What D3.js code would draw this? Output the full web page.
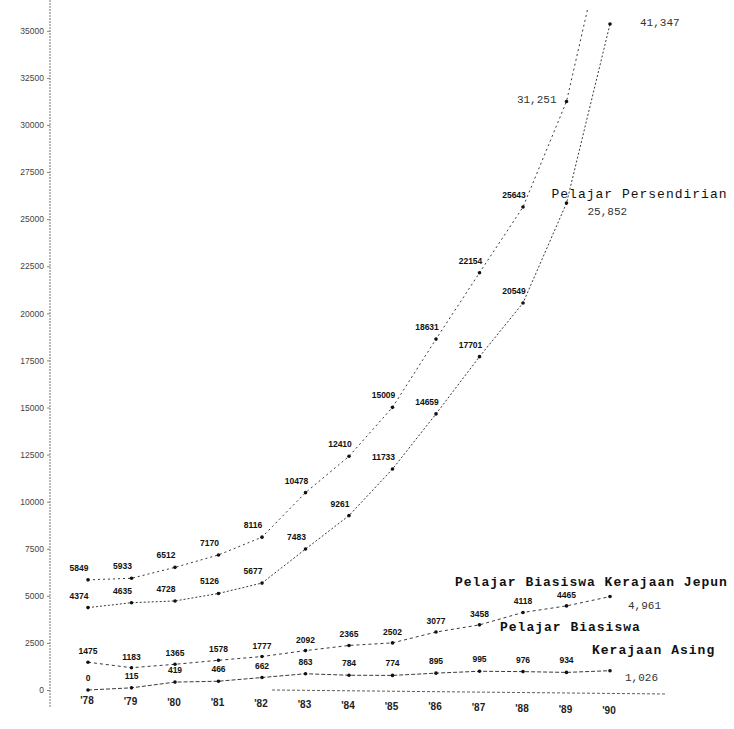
<!DOCTYPE html>
<html>
<head>
<meta charset="utf-8">
<script src="https://cdn.jsdelivr.net/npm/d3@7"></script>
<style>
  body { margin: 0; background: #fff; }
  svg { display: block; }
  .val { font-family: "Liberation Sans", Arial, sans-serif; font-size: 8.5px; font-weight: bold; fill: #111; }
  .endval { font-family: "Liberation Mono", monospace; font-size: 11px; fill: #333; }
  .series-name { font-family: "Liberation Mono", monospace; font-size: 13px; font-weight: bold; letter-spacing: 1px; fill: #111; }
  .y-axis text { font-family: "Liberation Sans", Arial, sans-serif; font-size: 8.5px; fill: #444; }
  .x-label { font-family: "Liberation Sans", Arial, sans-serif; font-size: 10px; font-weight: bold; fill: #222; }
</style>
</head>
<body>
<svg id="chart"></svg>
<script>
// Chart data
const years = ["'78", "'79", "'80", "'81", "'82", "'83", "'84", "'85", "'86", "'87", "'88", "'89", "'90"];
const totalValues = [5849, 5933, 6512, 7170, 8116, 10478, 12410, 15009, 18631, 22154, 25643, 31251, 41347];
const privateValues = [4374, 4635, 4728, 5126, 5677, 7483, 9261, 11733, 14659, 17701, 20549, 25852, 35360];
const japanValues = [1475, 1183, 1365, 1578, 1777, 2092, 2365, 2502, 3077, 3458, 4118, 4465, 4961];
const foreignValues = [0, 115, 419, 466, 662, 863, 784, 774, 895, 995, 976, 934, 1026];
const yTickValues = [0, 2500, 5000, 7500, 10000, 12500, 15000, 17500, 20000, 22500, 25000, 27500, 30000, 32500, 35000];

const width = 734, height = 729;

const svg = d3.select('#chart')
    .attr('width', width)
    .attr('height', height);

// Scales
const x = d3.scalePoint().domain(years).range([88, 610]);
const y = d3.scaleLinear().domain([0, 36000]).range([690, 12]);

const plain = d3.format('d');
const comma = d3.format(',');

// Clip so the top of the curves runs off the page like the scan
svg.append('clipPath').attr('id', 'plot-clip')
    .append('rect')
    .attr('x', 0).attr('y', 8)
    .attr('width', width).attr('height', height);

// Y axis
const yAxis = d3.axisLeft(y)
    .tickValues(yTickValues)
    .tickSize(3)
    .tickPadding(3)
    .tickFormat(plain);

const yG = svg.append('g')
    .attr('class', 'y-axis')
    .attr('transform', 'translate(50,0)')
    .call(yAxis);
yG.select('.domain').remove();
yG.selectAll('.tick line').attr('stroke', '#888');
yG.append('line')
    .attr('x1', 0).attr('x2', 0)
    .attr('y1', 0).attr('y2', y(0) + 18)
    .attr('stroke', '#777')
    .attr('stroke-width', 1)
    .attr('stroke-dasharray', '2,1');

// Faint baseline on the right half
svg.append('line')
    .attr('x1', x("'82") + 10).attr('x2', x("'90") + 56)
    .attr('y1', y(0)).attr('y2', y(0) + 4)
    .attr('stroke', '#333')
    .attr('stroke-width', 0.8)
    .attr('stroke-dasharray', '3,2');

// X labels
svg.selectAll('.x-label')
    .data(years)
    .enter()
    .append('text')
    .attr('class', 'x-label')
    .attr('x', d => x(d) - 1)
    .attr('y', (d, i) => y(0) + 14 + i * 0.8)
    .attr('text-anchor', 'middle')
    .text(d => d);

// Draw one series
const line = d3.line()
    .x((d, i) => x(years[i]))
    .y(d => y(d));

function drawSeries(values, dash, width) {
    const g = svg.append('g').attr('clip-path', 'url(#plot-clip)');
    g.append('path')
        .datum(values)
        .attr('d', line)
        .attr('fill', 'none')
        .attr('stroke', '#222')
        .attr('stroke-width', width)
        .attr('stroke-dasharray', dash);
    g.selectAll('circle')
        .data(values)
        .enter()
        .append('circle')
        .attr('cx', (d, i) => x(years[i]))
        .attr('cy', d => y(d))
        .attr('r', 1.8)
        .attr('fill', '#111');
    return g;
}

drawSeries(totalValues, '2,3', 0.9);
drawSeries(privateValues, '2,2', 0.9);
drawSeries(japanValues, '3,3', 0.9);
drawSeries(foreignValues, '4,2', 0.9);

// Value labels
function addLabels(values, cls, lastIndex, dx, dy) {
    svg.selectAll(null)
        .data(values.slice(0, lastIndex))
        .enter()
        .append('text')
        .attr('class', cls)
        .attr('x', (d, i) => x(years[i]) + dx)
        .attr('y', d => y(d) + dy)
        .attr('text-anchor', 'middle')
        .text(d => plain(d));
}

addLabels(totalValues, 'val', 11, -9, -9);
addLabels(privateValues, 'val', 11, -9, -9);
addLabels(japanValues, 'val', 12, 0, -8);
addLabels(foreignValues, 'val', 12, 0, -9);

// End labels
const i89 = 11, i90 = 12;
svg.append('text').attr('class', 'endval')
    .attr('x', x(years[i89]) - 10).attr('y', y(totalValues[i89]) + 2)
    .attr('text-anchor', 'end')
    .text(comma(totalValues[i89]));
svg.append('text').attr('class', 'endval')
    .attr('x', x(years[i90]) + 30).attr('y', y.range()[1] + 14)
    .text(comma(totalValues[i90]));
svg.append('text').attr('class', 'endval')
    .attr('x', x(years[i89]) + 21).attr('y', y(privateValues[i89]) + 12)
    .text(comma(privateValues[i89]));
svg.append('text').attr('class', 'endval')
    .attr('x', x(years[i90]) + 18).attr('y', y(japanValues[i90]) + 12)
    .text(comma(japanValues[i90]));
svg.append('text').attr('class', 'endval')
    .attr('x', x(years[i90]) + 15).attr('y', y(foreignValues[i90]) + 10)
    .text(comma(foreignValues[i90]));

// Series names
svg.append('text').attr('class', 'series-name')
    .attr('x', x(years[i89]) - 15).attr('y', y(privateValues[i89]) - 5)
    .style('font-weight', 'normal')
    .text('Pelajar Persendirian');
svg.append('text').attr('class', 'series-name')
    .attr('x', x("'84") + 106).attr('y', y(japanValues[i90]) - 11)
    .text('Pelajar Biasiswa Kerajaan Jepun');
svg.append('text').attr('class', 'series-name')
    .attr('x', x("'88") - 23).attr('y', y(japanValues[i90]) + 34)
    .text('Pelajar Biasiswa');
svg.append('text').attr('class', 'series-name')
    .attr('x', x("'90") - 18).attr('y', y(foreignValues[i90]) - 17)
    .text('Kerajaan Asing');
</script>
</body>
</html>
